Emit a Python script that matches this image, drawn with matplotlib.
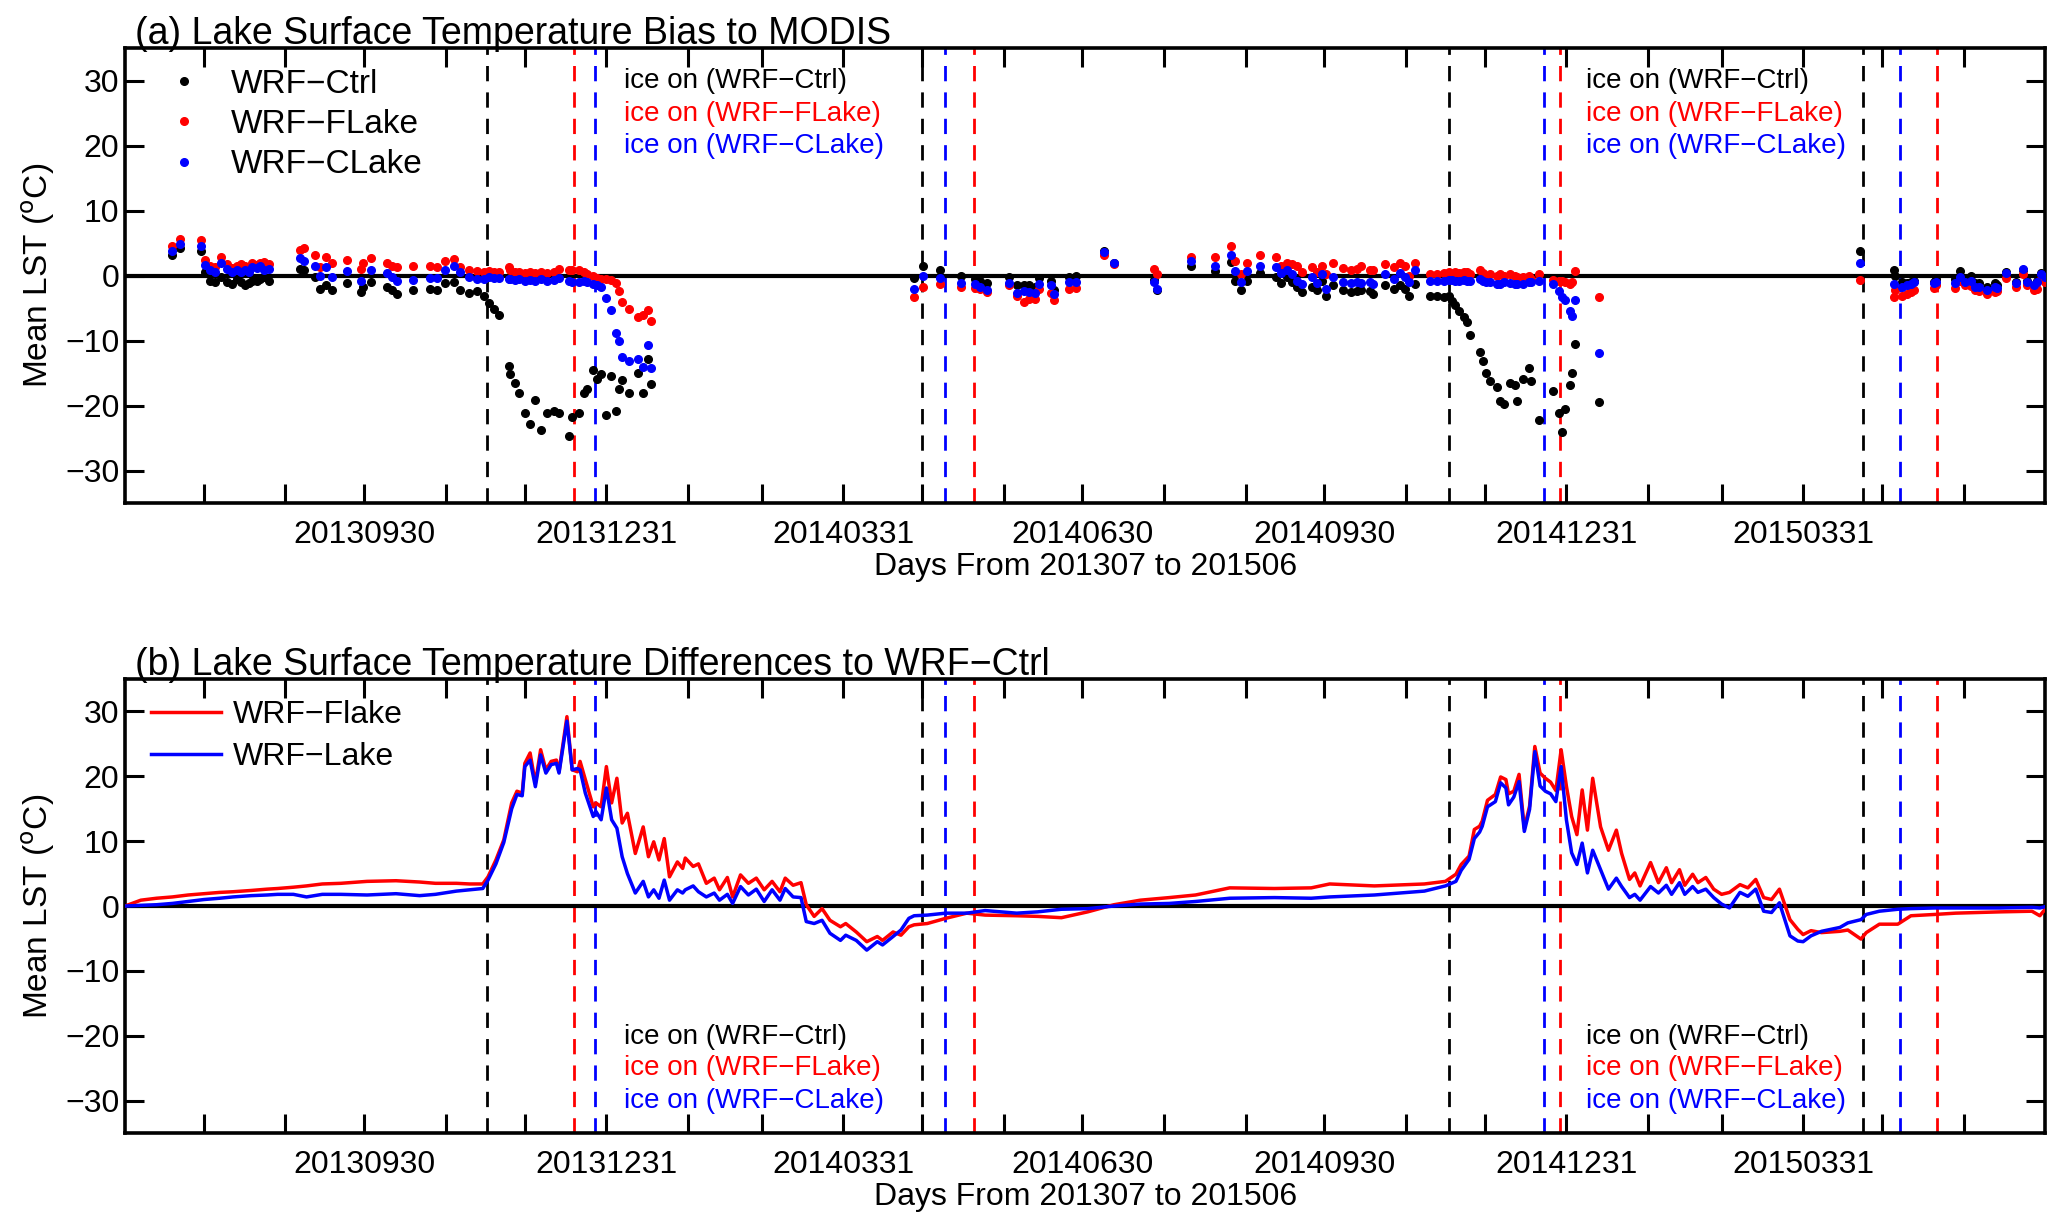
import matplotlib
matplotlib.use("Agg")
import matplotlib.pyplot as plt
import numpy as np
import pandas as pd

plt.rcParams['font.family'] = ['Liberation Sans', 'DejaVu Sans']
plt.rcParams['lines.scale_dashes'] = False

# panel (a): MODIS bias, day index from 2013-07-01
obs_day = [18, 21, 29, 30.4, 32.3, 34.2, 36.4, 38.7, 40.5, 42.5, 44, 45.6, 47, 48.2, 50, 51.4, 53, 54.9,
           66.5, 68.1, 72.2, 74.1, 76.4, 78.5, 84.5, 89.6, 90.6, 93.4, 99.5, 101.4, 103.3, 109.6, 116, 118.5,
           121.7, 125.1, 127.4, 130.6, 133.7, 136.3, 138.2, 140.1, 142, 145.8, 146.5, 148.4, 149.7, 152.2,
           154.1, 156, 158, 160.5, 163.1, 165, 168.8, 170.1, 172.6, 174.5, 175.8, 178.1, 179.6, 180.9, 182.8,
           184.7, 186.6, 187.9, 189.1, 191.7, 194.9, 196.8, 198.7, 199.8,
           299.8, 303.5, 309.9, 317.9, 323.3, 325.2, 327.7, 336, 339.1, 341.7, 343.6, 346.1, 347.4, 352.1,
           353.1, 358.8, 361.4, 372.1, 376, 391.2, 392.2, 405.1, 414.3, 420.3, 421.9, 424.4, 426.5, 431.5,
           437.5, 439.4, 441.7, 443.8, 445.7, 447.6, 451.4, 453.3, 455.2, 456.5, 459.4, 462.9, 466, 468.3,
           469.8, 473.4, 474.3, 479.1, 482.3, 484.8, 486.7, 488, 490.5, 496.3, 498.8, 501.3, 503.2, 504.5,
           505.8, 507.1, 509, 510.2, 511.5, 515.2, 516.3, 517.5, 518.8, 521.6, 522.8, 524.1, 526.6, 528.5,
           529.4, 531.4, 533.6, 534.5, 537.4, 543, 545, 546.3, 547.4, 549.3, 550.3, 551.2, 560.4,
           659.7, 672.4, 673, 675.6, 677.5, 679, 680, 687.6, 688.7, 695.9, 697.8, 699.4, 701.9, 703.2,
           704.8, 708, 710.8, 711.8, 715, 718.8, 721.7, 723.3, 725.8, 727.1, 728.6, 729.9]
ctrl_bias = [3.2, 4.2, 3.7, 0.5, -0.8, -1.0, -0.3, -1.0, -1.3, -0.5, -1.0, -1.5, -1.2, -0.8, -0.9, -0.5, -0.3, -0.8,
             1.0, 0.8, -0.3, -2.0, -1.5, -2.2, -1.2, -2.6, -1.7, -1.0, -1.7, -2.3, -2.8, -2.3, -2.0, -2.2,
             -1.2, -1.0, -2.3, -2.7, -2.4, -3.1, -4.3, -5.1, -6.1, -13.9, -15.2, -16.6, -18.1, -21.2,
             -22.8, -19.2, -23.8, -21.1, -20.9, -21.1, -24.7, -21.7, -21.2, -18.1, -17.4, -14.6, -15.9, -15.2, -21.5,
             -15.5, -20.8, -17.4, -16.0, -18.1, -15.0, -18.1, -12.8, -16.7,
             -0.4, 1.5, 0.9, 0.0, -0.5, -0.8, -1.2, -0.3, -1.5, -1.4, -1.5, -1.8, -0.4, -0.8,
             -2.3, -0.3, 0.0, 3.7, 1.9, -0.7, -2.3, 1.4, 0.7, 2.1, -0.9, -2.2, -0.8, 0.4,
             -0.2, -1.2, -0.3, -1.0, -1.8, -2.6, -1.7, -2.3, -0.8, -3.1, -1.5, -2.3, -2.6, -2.4,
             -2.3, -2.4, -2.8, -1.5, -2.0, -1.4, -2.0, -3.2, -1.3, -3.2, -3.2, -3.3, -3.2, -3.9,
             -4.6, -5.4, -6.4, -7.2, -9.2, -11.8, -13.2, -15.0, -16.3, -17.1, -19.3, -19.8, -16.6, -16.9,
             -19.3, -15.9, -14.3, -16.3, -22.2, -17.8, -21.2, -24.1, -20.5, -16.9, -15.0, -10.6, -19.4,
             3.8, 0.8, 0.0, -1.0, -1.2, -1.0, -0.9, -1.0, -0.6, -0.5, 0.7, -0.8, 0.0, -1.2,
             -1.2, -1.8, -1.2, -1.4, 0.6, -1.0, 0.9, -0.8, -1.4, -0.9, 0.4, 0.0]
flake_bias = [4.6, 5.6, 5.5, 2.4, 1.5, 1.3, 2.8, 1.8, 1.2, 1.5, 1.8, 1.5, 1.3, 1.9, 1.6, 2.0, 2.1, 1.8,
              3.9, 4.3, 3.1, 1.3, 2.9, 1.9, 2.4, 1.0, 1.9, 2.7, 2.0, 1.5, 1.3, 1.5, 1.5, 1.3,
              2.3, 2.6, 1.3, 0.8, 0.7, 0.5, 0.7, 0.5, 0.5, 1.3, 0.8, 0.5, 0.6, 0.4,
              0.5, 0.4, 0.5, 0.4, 0.5, 1.0, 0.8, 0.8, 0.8, 0.5, 0.3, 0.0, -0.4, -0.5, -0.5,
              -0.7, -1.2, -2.4, -4.1, -5.1, -6.4, -6.0, -5.3, -7.0,
              -3.3, -1.7, -1.3, -1.8, -1.9, -2.0, -2.6, -1.5, -3.2, -4.1, -3.6, -3.6, -2.0, -2.7,
              -3.8, -2.0, -1.9, 3.1, 1.8, 1.0, 0.3, 2.9, 2.9, 4.6, 2.3, 0.3, 2.0, 3.1,
              2.8, 1.5, 2.0, 1.8, 1.5, 0.5, 1.3, 0.5, 1.4, 0.3, 1.9, 1.2, 0.9, 1.0,
              1.4, 0.8, 0.8, 1.7, 1.3, 1.9, 1.5, 0.0, 1.9, 0.3, 0.3, 0.4, 0.6, 0.3,
              0.5, 0.4, 0.6, 0.5, 0.3, 0.8, 0.4, 0.0, 0.3, 0.0, 0.3, 0.0, 0.2, 0.0,
              -0.2, -0.3, 0.0, -0.5, 0.2, -0.7, -0.8, -0.8, -1.0, -1.3, -1.0, 0.7, -3.3,
              -0.7, -3.3, -2.2, -3.2, -2.9, -2.6, -2.3, -1.9, -1.5, -1.9, -0.9, -1.5, -1.6, -2.3,
              -2.4, -2.9, -2.6, -2.4, -0.4, -1.8, 0.3, -1.5, -2.3, -2.0, -0.5, -1.0]
clake_bias = [3.7, 4.8, 4.6, 1.6, 0.8, 0.5, 1.9, 1.0, 0.6, 0.9, 0.5, 0.9, 0.6, 1.3, 1.1, 1.4, 0.8, 1.0,
              2.7, 2.3, 1.5, 0.0, 1.3, -0.3, 0.7, -0.8, np.nan, 0.9, 0.4, -0.3, -0.9, -0.7, -0.4, -0.4,
              0.9, 1.5, 0.5, -0.3, -0.5, -0.5, -0.3, -0.4, -0.4, -0.5, -0.6, -0.7, -0.6, -0.8,
              -0.7, -0.8, -0.6, -0.8, -0.7, -0.4, -0.8, -1.0, -1.0, -0.8, -1.0, -1.3, -1.5, -1.8, -3.4,
              -5.3, -8.9, -10.0, -12.6, -13.2, -12.8, -14.1, -10.7, -14.3,
              -2.0, 0.0, -0.4, -1.2, -1.3, -1.7, -2.3, -1.2, -2.7, -2.4, -2.6, -2.7, -1.3, -1.4,
              -2.9, -1.0, -1.0, 3.6, 1.9, -1.0, -2.0, 2.2, 1.5, 3.1, 0.7, -1.0, 0.7, 1.5,
              1.3, 0.4, 0.8, 0.2, -0.8, -1.3, -0.3, -1.2, 0.2, -2.0, -0.2, -1.0, -1.2, -1.0,
              -1.2, -1.0, -1.3, 0.2, -0.5, 0.4, -0.2, -1.0, 0.8, -0.9, -0.9, -0.8, -0.7, -0.7,
              -0.8, -0.8, -0.7, -0.8, -0.9, -0.5, -0.8, -1.0, -1.0, -1.3, -1.3, -1.0, -1.2, -1.3,
              -1.3, -1.3, -1.0, -1.0, -0.9, -1.3, -2.4, -3.3, -3.7, -5.4, -6.3, -3.7, -11.9,
              2.0, -1.3, np.nan, -1.7, -1.4, -1.3, -1.0, -1.2, -1.0, -1.2, -0.2, -1.0, -0.8, -1.7,
              -1.8, -2.3, -1.7, -1.9, 0.4, -1.2, 1.0, -1.0, -1.5, -1.0, 0.2, -0.3]

# panel (b): difference to WRF-Ctrl
diff_day = [0, 6, 12, 18, 24, 30, 36, 41, 48, 54, 58, 64, 69, 75, 82, 92, 103, 112, 118, 126, 131, 136,
            138, 141, 144, 147, 149, 151, 152, 154, 156, 158, 160, 162, 164, 165, 168, 170, 172, 173, 175,
            178, 179, 181, 183, 185, 187, 189, 191, 194, 197, 199, 201, 203, 205, 207, 210, 212, 213, 216,
            218, 221, 224, 226, 229, 231, 234, 237, 240, 243, 246, 249, 251, 254, 257, 259, 262, 265, 268,
            272, 274, 278, 282, 286, 288, 292, 295, 298, 300, 305, 312, 320, 327, 339, 347, 356, 366, 376,
            386, 397, 407, 420, 437, 451, 458, 475, 494, 502, 506, 508, 511, 513, 515, 516, 518, 521, 523,
            525, 526, 528, 530, 532, 534, 536, 538, 540, 542, 544, 546, 548, 550, 552, 554, 556, 558, 561,
            564, 567, 569, 572, 574, 576, 580, 583, 586, 588, 591, 593, 596, 598, 601, 604, 607, 610, 614,
            617, 620, 623, 626, 629, 633, 636, 638, 641, 645, 652, 655, 660, 662, 667, 674, 679, 688, 696,
            713, 725, 728, 730]
flake_diff = [0.0, 0.9, 1.2, 1.4, 1.7, 1.9, 2.1, 2.2, 2.4, 2.6, 2.7, 2.9, 3.1, 3.4, 3.5, 3.8, 3.9, 3.7, 3.5, 3.5, 3.4, 3.4,
              4.5, 7.1, 10.2, 15.9, 17.7, 17.4, 22.0, 23.6, 18.9, 24.1, 21.0, 22.3, 22.5, 20.7, 29.2, 21.0, 20.7, 22.3, 19.5,
              15.3, 15.9, 15.3, 21.5, 15.9, 19.7, 12.8, 14.3, 8.1, 12.2, 7.6, 9.9, 7.1, 10.4, 4.5, 6.8, 5.8, 7.4, 6.1,
              6.5, 3.5, 4.3, 2.5, 4.4, 1.4, 4.8, 3.5, 4.3, 2.5, 3.8, 2.2, 4.3, 3.2, 3.6, 0.2, -1.6, -0.4, -2.2,
              -3.2, -2.7, -4.0, -5.5, -4.7, -5.3, -4.0, -4.5, -3.2, -2.9, -2.7, -1.9, -1.1, -1.4, -1.5, -1.6, -1.8, -0.9, 0.2,
              0.9, 1.3, 1.7, 2.8, 2.7, 2.8, 3.4, 3.1, 3.4, 3.8, 4.9, 6.4, 7.7, 11.8, 12.3, 13.1, 16.3, 17.2, 19.9,
              19.5, 17.3, 17.7, 20.3, 12.0, 15.4, 24.6, 20.5, 19.7, 19.1, 17.8, 24.1, 18.5, 13.8, 11.0, 17.9, 11.7, 19.7, 12.2,
              8.6, 11.7, 8.1, 4.1, 5.1, 3.1, 6.7, 3.6, 5.9, 3.6, 5.6, 3.2, 4.9, 3.6, 4.4, 2.6, 1.8, 2.1, 3.3,
              2.8, 4.1, 1.3, 1.0, 2.6, -2.1, -3.6, -4.4, -3.8, -4.1, -3.9, -3.7, -5.1, -4.1, -2.8, -2.8, -1.5, -1.3, -1.1,
              -0.9, -0.8, -1.5, -0.5]
clake_diff = [0.0, 0.1, 0.2, 0.4, 0.7, 1.0, 1.2, 1.4, 1.6, 1.7, 1.8, 1.8, 1.4, 1.8, 1.8, 1.7, 1.9, 1.6, 1.8, 2.3, 2.5, 2.7,
              4.0, 6.5, 9.8, 15.0, 17.2, 17.0, 21.5, 22.5, 18.4, 23.3, 20.5, 21.8, 22.0, 20.5, 28.5, 21.0, 21.2, 21.0, 17.4,
              13.8, 14.6, 13.3, 18.2, 13.3, 12.0, 7.6, 5.0, 2.0, 3.8, 1.4, 2.5, 1.2, 4.0, 0.9, 2.5, 2.0, 2.5, 3.1,
              2.2, 1.4, 2.0, 0.9, 1.8, 0.4, 3.0, 1.7, 2.6, 0.7, 2.5, 0.9, 2.7, 1.4, 1.3, -2.4, -2.7, -2.2, -4.2,
              -5.3, -4.5, -5.3, -6.8, -5.5, -6.0, -4.7, -3.7, -1.9, -1.5, -1.4, -1.1, -1.1, -0.7, -1.1, -0.9, -0.5, -0.4, 0.0,
              0.3, 0.4, 0.7, 1.2, 1.3, 1.2, 1.4, 1.7, 2.3, 3.1, 3.8, 5.5, 7.2, 10.4, 11.4, 12.3, 15.3, 16.1, 19.0,
              18.2, 15.6, 16.8, 19.2, 11.5, 14.9, 23.8, 18.5, 17.7, 17.3, 16.1, 21.5, 13.3, 8.2, 6.4, 9.7, 5.1, 8.6, 5.6,
              2.6, 4.3, 3.0, 1.3, 1.8, 0.9, 3.0, 2.0, 3.2, 1.8, 3.6, 1.8, 3.0, 2.1, 2.6, 1.3, 0.3, -0.3, 2.1,
              1.5, 2.6, -0.8, -1.0, 0.5, -4.6, -5.4, -5.5, -4.6, -3.9, -3.3, -2.6, -2.1, -1.3, -0.8, -0.5, -0.4, -0.3, -0.3,
              -0.3, -0.2, -0.3, -0.1]

# ice-on days for each run
ctrl_ice = [137.5, 303, 503.4, 660.8]
flake_ice = [170.7, 322.8, 545.5, 688.9]
clake_ice = [178.6, 311.8, 539.5, 674.9]

start = pd.Timestamp("2013-07-01")
month_ends = pd.date_range("2013-07-31", "2015-05-31", freq="ME")
tick_pos = [(d - start).days for d in month_ends]
tick_lab = [d.strftime("%Y%m%d") if d.month in (3, 6, 9, 12) else "" for d in month_ends]

FS = 23


def style_axes(ax, title):
    ax.set_xlim(0, 730)
    ax.set_ylim(-35, 35)
    ax.set_xticks(tick_pos)
    ax.set_xticklabels(tick_lab)
    ax.set_yticks([-30, -20, -10, 0, 10, 20, 30])
    ax.tick_params(axis='x', direction='in', length=14, width=2.2, top=True, pad=12, labelsize=FS)
    ax.tick_params(axis='y', direction='in', length=14, width=2.2, right=True, pad=4, labelsize=FS)
    for s in ax.spines.values():
        s.set_linewidth(2.6)
    ax.axhline(0, color='black', lw=3, zorder=3)
    for days, c in [(ctrl_ice, 'black'), (flake_ice, 'red'), (clake_ice, 'blue')]:
        for d in days:
            ax.axvline(d, color=c, lw=2, dashes=(11, 8), zorder=2)
    ax.set_xlabel("Days From 201307 to 201506", fontsize=FS, labelpad=2)
    ax.set_ylabel(r"Mean LST ($^{\mathrm{o}}$C)", fontsize=FS + 1, labelpad=6)
    ax.text(0.005, 1.008, title, transform=ax.transAxes, fontsize=27, ha='left', va='baseline')


def ice_notes(ax, ys):
    for xf in (0.26, 0.761):
        for y, (lab, c) in zip(ys, [("ice on (WRF\u2212Ctrl)", 'black'),
                                     ("ice on (WRF\u2212FLake)", 'red'),
                                     ("ice on (WRF\u2212CLake)", 'blue')]):
            ax.text(xf, y, lab, color=c, fontsize=20, transform=ax.transAxes, ha='left', va='center')


fig = plt.figure(figsize=(20.67, 12.29), dpi=100)
ax1 = fig.add_axes([0.0605, 0.5907, 0.9289, 0.3702])
ax2 = fig.add_axes([0.0605, 0.0781, 0.9289, 0.3694])

# (a)
ax1.plot(obs_day, ctrl_bias, 'o', color='black', ms=5.5, label="WRF\u2212Ctrl", zorder=4)
ax1.plot(obs_day, flake_bias, 'o', color='red', ms=5.5, label="WRF\u2212FLake", zorder=4)
ax1.plot(obs_day, clake_bias, 'o', color='blue', ms=5.5, label="WRF\u2212CLake", zorder=4)
style_axes(ax1, "(a) Lake Surface Temperature Bias to MODIS")
ax1.legend(loc='upper left', bbox_to_anchor=(0.024, 0.955), frameon=False, fontsize=24,
           handlelength=0.8, handletextpad=1.0, labelspacing=0.28, borderpad=0, borderaxespad=0)
ice_notes(ax1, [0.927, 0.856, 0.784])

# (b)
ax2.plot(diff_day, flake_diff, color='red', lw=2.5, label="WRF\u2212Flake", zorder=4)
ax2.plot(diff_day, clake_diff, color='blue', lw=2.5, label="WRF\u2212Lake", zorder=4)
style_axes(ax2, "(b) Lake Surface Temperature Differences to WRF\u2212Ctrl")
ax2.legend(loc='upper left', bbox_to_anchor=(0.0135, 0.953), frameon=False, fontsize=23,
           handlelength=2.2, handletextpad=0.35, labelspacing=0.36, borderpad=0, borderaxespad=0)
ice_notes(ax2, [0.211, 0.143, 0.0705])

fig.savefig("out.png", dpi=100)
